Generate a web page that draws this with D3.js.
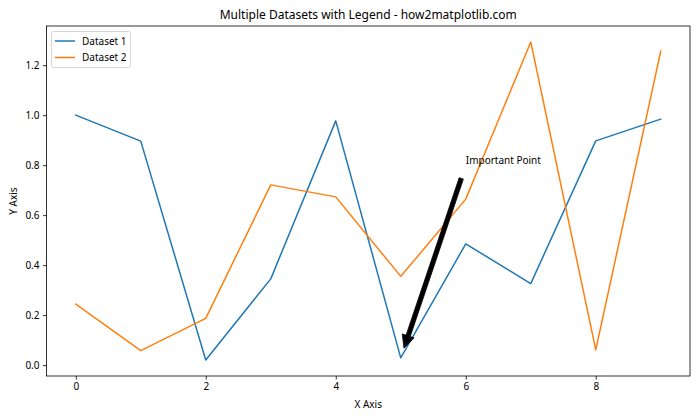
<!DOCTYPE html>
<html><head><meta charset="utf-8">
<script src="https://cdn.jsdelivr.net/npm/d3@7"></script>
<style>body{margin:0;background:#fff}svg{display:block;font-family:"Noto Sans","DejaVu Sans",sans-serif}</style>
</head><body><svg id="c" width="700" height="420"></svg>
<script>
const xs = [0,1,2,3,4,5,6,7,8,9];
const series1 = [1.0,0.896,0.02,0.345,0.977,0.029,0.485,0.326,0.897,0.984];
const series2 = [0.244,0.058,0.187,0.721,0.673,0.355,0.664,1.293,0.061,1.256];
const xTicks = [0,2,4,6,8];
const yTicks = [0.0,0.2,0.4,0.6,0.8,1.0,1.2];
const names = ["Dataset 1","Dataset 2"];
const colors = ["#1f77b4","#ff7f0e"];
const annot = {text:"Important Point", xy:[5,0.029], xytext:[6,0.8]};

const svg = d3.select("#c");
const L=46.5,R=690,T=26,B=376;
const x = d3.scaleLinear().domain([-0.45,9.45]).range([L,R]);
const y = d3.scaleLinear().domain([-0.0437,1.3567]).range([B,T]);

svg.append("rect").attr("width",700).attr("height",420).attr("fill","#fff");

const line = d3.line().x((d,i)=>x(xs[i])).y(d=>y(d));
[series1,series2].forEach((s,k)=>{
  svg.append("path").datum(s).attr("d",line).attr("fill","none")
    .attr("stroke",colors[k]).attr("stroke-width",1.5).attr("stroke-linejoin","round").attr("stroke-linecap","square");
});

// axes
const xa = svg.append("g").attr("transform",`translate(0,${B})`)
  .call(d3.axisBottom(x).tickValues(xTicks).tickFormat(d3.format("d")).tickSize(3.5).tickPadding(3.5));
const ya = svg.append("g").attr("transform",`translate(${L},0)`)
  .call(d3.axisLeft(y).tickValues(yTicks).tickFormat(d3.format(".1f")).tickSize(3.5).tickPadding(3.5));
[xa,ya].forEach(g=>{
  g.select(".domain").remove();
  g.selectAll("line").attr("stroke","#000").attr("stroke-width",0.8);
  g.selectAll("text").attr("fill","#000").attr("font-size",10).attr("font-family",'"Noto Sans","DejaVu Sans",sans-serif');
});
svg.append("rect").attr("x",L).attr("y",T).attr("width",R-L).attr("height",B-T)
  .attr("fill","none").attr("stroke","#000").attr("stroke-width",0.8);

// annotation arrow
const x0=x(annot.xytext[0]), y0=y(annot.xytext[1]), x1=x(annot.xy[0]), y1=y(annot.xy[1]);
const dx=x1-x0, dy=y1-y0, len=Math.hypot(dx,dy), shA=14, shB=0.05*len;
const ux=dx/len, uy=dy/len, px=-uy, py=ux;
const sx=x0+ux*shA, sy=y0+uy*shA, ex=x1-ux*shB, ey=y1-uy*shB;
const w=2.2, hw=6.2, hl=13;
const bx=ex-ux*hl, by=ey-uy*hl;
const pts=[[sx+px*w,sy+py*w],[bx+px*w,by+py*w],[bx+px*hw,by+py*hw],[ex,ey],[bx-px*hw,by-py*hw],[bx-px*w,by-py*w],[sx-px*w,sy-py*w]];
svg.append("path").attr("d","M"+pts.map(p=>p.join(",")).join("L")+"Z").attr("fill","#000").attr("stroke","#000").attr("stroke-width",0.8);
svg.append("text").attr("x",x0).attr("y",y0-1).attr("font-size",10).attr("fill","#000").text(annot.text);

// title and labels
svg.append("text").attr("x",(L+R)/2).attr("y",T-7).attr("text-anchor","middle").attr("font-size",12).attr("fill","#000")
  .text("Multiple Datasets with Legend - how2matplotlib.com");
svg.append("text").attr("x",(L+R)/2).attr("y",408).attr("text-anchor","middle").attr("font-size",10).attr("fill","#000").text("X Axis");
svg.append("text").attr("transform",`translate(17,${(T+B)/2}) rotate(-90)`).attr("text-anchor","middle").attr("font-size",10).attr("fill","#000").text("Y Axis");

// legend
const lg = svg.append("g");
lg.append("rect").attr("x",51.5).attr("y",31.5).attr("width",79).attr("height",36).attr("rx",2)
  .attr("fill","#fff").attr("fill-opacity",0.8).attr("stroke","#ccc").attr("stroke-width",0.8);
names.forEach((n,i)=>{
  const yy=41+i*16.5;
  lg.append("line").attr("x1",55).attr("x2",75).attr("y1",yy).attr("y2",yy).attr("stroke",colors[i]).attr("stroke-width",1.5);
  lg.append("text").attr("x",82).attr("y",yy+3.5).attr("font-size",10).attr("fill","#000").text(n);
});
</script></body></html>
